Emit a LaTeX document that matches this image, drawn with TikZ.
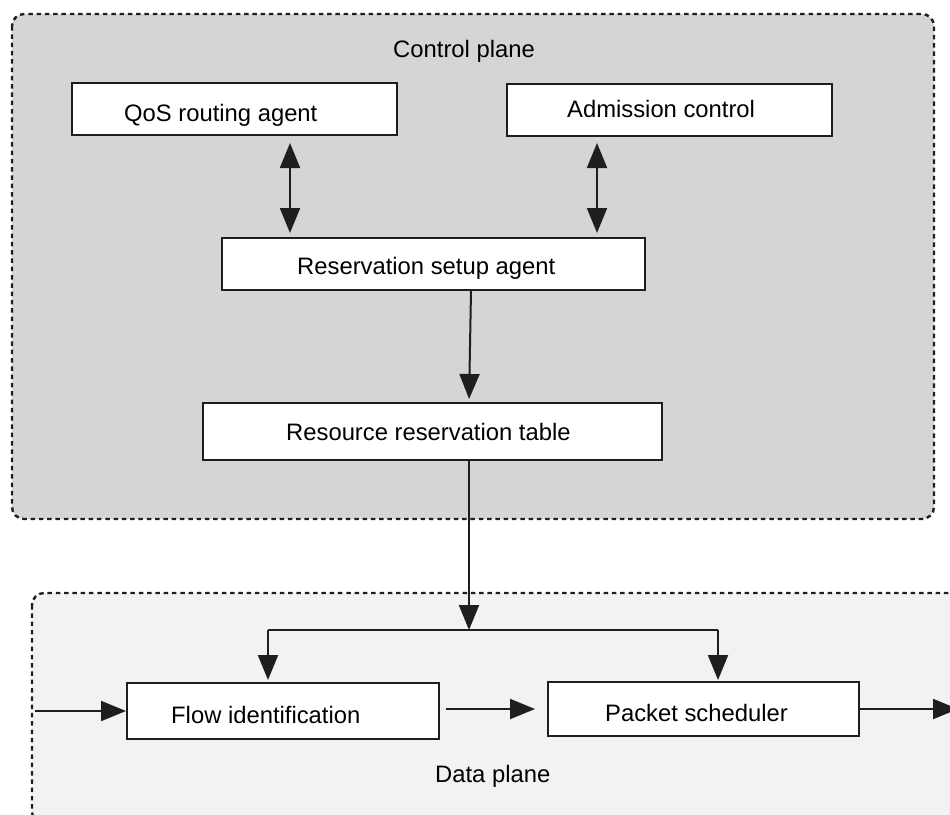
\documentclass[tikz,border=0pt]{standalone}
\usepackage{fontspec}
\setmainfont{Liberation Sans}
\usetikzlibrary{arrows.meta}

\definecolor{ctrlfill}{RGB}{215,212,214}
\definecolor{datafill}{RGB}{242,242,242}
\definecolor{ink}{RGB}{30,30,30}

\begin{document}
\begin{tikzpicture}[x=1pt,y=-1pt,
  plane/.style={draw=ink, line width=2.4pt, dash pattern=on 4.5pt off 3.8pt, rounded corners=12pt},
  box/.style={draw=ink, fill=white, line width=2pt, inner sep=0pt},
  lbl/.style={anchor=base west, inner sep=0pt, font=\fontsize{23.8}{28}\selectfont},
  tip/.tip={Triangle[length=25pt,width=20pt]},
  arr/.style={draw=ink, line width=2pt, -tip},
  dbl/.style={draw=ink, line width=2pt, tip-tip},
  wire/.style={draw=ink, line width=2pt}]
\useasboundingbox (0,0) rectangle (950,814);
\clip (0,0) rectangle (950,814);

% the two planes
\path[plane, fill=ctrlfill] (12,14) rectangle (934,519);
\path[plane, fill=datafill] (32,593) rectangle (962,824);
\node[lbl, anchor=base east] (ctrl) at (535,57) {Control plane};
\node[lbl] (data) at (435,782) {Data plane};

% control plane blocks
\node[box, minimum width=325pt, minimum height=52pt] (qos) at (234.5,109) {};
\node[lbl] at (124,121) {QoS routing agent};
\node[box, minimum width=325pt, minimum height=52pt] (adm) at (669.5,110) {};
\node[lbl] at (567,117) {Admission control};
\node[box, minimum width=423pt, minimum height=52pt] (setup) at (433.5,264) {};
\node[lbl] at (297,274) {Reservation setup agent};
\node[box, minimum width=459pt, minimum height=57pt] (table) at (432.5,431.5) {};
\node[lbl] at (286,440) {Resource reservation table};

% data plane blocks
\node[box, minimum width=312pt, minimum height=56pt] (flow) at (283,711) {};
\node[lbl] at (171,723) {Flow identification};
\node[box, minimum width=311pt, minimum height=54pt] (pkt) at (703.5,709) {};
\node[lbl] at (605,721) {Packet scheduler};

% anchor points for connectors
\coordinate (qx) at (290,0);
\coordinate (ax) at (597,0);
\coordinate (sx) at (471,0);
\coordinate (tx) at (469,0);
\coordinate (bus) at (469,630);
\coordinate (busL) at (268,630);
\coordinate (busR) at (718,630);
\coordinate (in) at (35,711);
\coordinate (out) at (958,709);

% control plane connectors
\draw[dbl, shorten <=7pt, shorten >=4pt] (qos.south -| qx) -- (setup.north -| qx);
\draw[dbl, shorten <=6pt, shorten >=4pt] (adm.south -| ax) -- (setup.north -| ax);
\draw[arr, shorten >=3pt] (setup.south -| sx) -- (table.north -| tx);

% distribution to the data plane
\draw[arr] (table.south -| tx) -- (bus);
\draw[wire] (busL) -- (busR);
\draw[arr, shorten >=2pt] (busL) -- (flow.north -| busL);
\draw[arr, shorten >=1pt] (busR) -- (pkt.north -| busR);

% packet path
\draw[arr] (in) -- (flow.west);
\draw[arr, shorten <=6pt, shorten >=12pt] (flow.east |- pkt.west) -- (pkt.west);
\draw[arr] (pkt.east) -- (out);
\end{tikzpicture}
\end{document}
